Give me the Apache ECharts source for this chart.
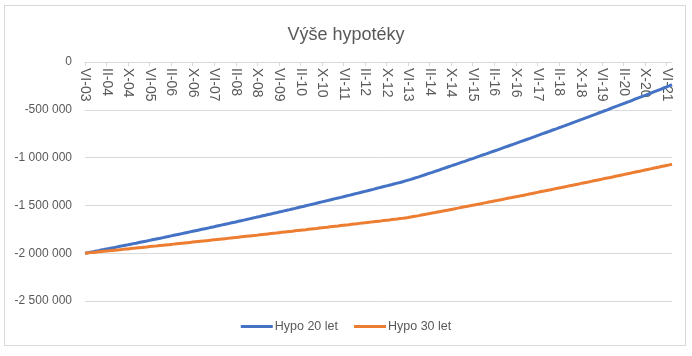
<!DOCTYPE html>
<html>
<head>
<meta charset="utf-8">
<script src="https://cdn.jsdelivr.net/npm/echarts@6/dist/echarts.min.js"></script>
<style>
html,body{margin:0;padding:0;background:#fff;}
#frame{position:absolute;left:4px;top:5px;width:682px;height:341px;border:1px solid #d9d9d9;box-sizing:border-box;}
#chart{position:absolute;left:0;top:0;width:692px;height:356px;}
</style>
</head>
<body>
<div id="frame"></div>
<div id="chart"></div>
<script>
// Month labels (Roman numerals) and period: VI-03 .. VIII-21, monthly
const romanMonths = ['I','II','III','IV','V','VI','VII','VIII','IX','X','XI','XII'];
const startMonth = 5;   // VI
const startYear = 2003;
const monthCount = 219;

// Remaining mortgage balance, in thousands CZK
const hypo20 = [
-2000,-1995,-1989,-1984,-1978,-1973,-1967,-1962,-1956,-1951,
-1945,-1940,-1934,-1928,-1923,-1917,-1912,-1906,-1900,-1895,
-1889,-1883,-1877,-1872,-1866,-1860,-1854,-1848,-1843,-1837,
-1831,-1825,-1819,-1813,-1807,-1801,-1795,-1789,-1783,-1777,
-1771,-1765,-1759,-1753,-1747,-1741,-1735,-1729,-1723,-1716,
-1710,-1704,-1698,-1692,-1685,-1679,-1673,-1666,-1660,-1654,
-1648,-1641,-1635,-1628,-1622,-1616,-1609,-1603,-1596,-1590,
-1583,-1577,-1570,-1564,-1557,-1550,-1544,-1537,-1531,-1524,
-1517,-1511,-1504,-1497,-1491,-1484,-1477,-1470,-1463,-1457,
-1450,-1443,-1436,-1429,-1422,-1416,-1409,-1402,-1395,-1388,
-1381,-1374,-1367,-1360,-1353,-1346,-1339,-1332,-1324,-1317,
-1310,-1303,-1296,-1289,-1282,-1274,-1267,-1260,-1252,-1244,
-1236,-1228,-1219,-1210,-1201,-1191,-1182,-1172,-1163,-1154,
-1144,-1135,-1125,-1116,-1106,-1096,-1087,-1077,-1068,-1058,
-1048,-1039,-1029,-1019,-1010,-1000,-990,-980,-970,-961,
-951,-941,-931,-921,-911,-901,-891,-881,-871,-861,
-851,-841,-831,-821,-811,-801,-791,-781,-770,-760,
-750,-740,-730,-719,-709,-699,-688,-678,-668,-657,
-647,-636,-626,-616,-605,-595,-584,-574,-563,-553,
-542,-531,-521,-510,-500,-489,-478,-467,-457,-446,
-435,-424,-414,-403,-392,-381,-370,-359,-349,-338,
-327,-316,-305,-294,-283,-272,-261,-250,-238
];
const hypo30 = [
-2000,-1997,-1994,-1992,-1989,-1986,-1983,-1980,-1977,-1975,
-1972,-1969,-1966,-1963,-1960,-1957,-1955,-1952,-1949,-1946,
-1943,-1940,-1937,-1934,-1931,-1928,-1926,-1923,-1920,-1917,
-1914,-1911,-1908,-1905,-1902,-1899,-1896,-1893,-1890,-1887,
-1884,-1881,-1878,-1875,-1872,-1869,-1866,-1863,-1860,-1857,
-1854,-1851,-1848,-1845,-1842,-1838,-1835,-1832,-1829,-1826,
-1823,-1820,-1817,-1814,-1811,-1807,-1804,-1801,-1798,-1795,
-1792,-1789,-1785,-1782,-1779,-1776,-1773,-1770,-1766,-1763,
-1760,-1757,-1754,-1750,-1747,-1744,-1741,-1737,-1734,-1731,
-1728,-1724,-1721,-1718,-1715,-1711,-1708,-1705,-1702,-1698,
-1695,-1692,-1688,-1685,-1682,-1678,-1675,-1672,-1668,-1665,
-1662,-1658,-1655,-1652,-1648,-1645,-1642,-1638,-1635,-1631,
-1627,-1622,-1617,-1612,-1607,-1601,-1596,-1591,-1585,-1580,
-1575,-1569,-1564,-1558,-1553,-1548,-1542,-1537,-1531,-1526,
-1520,-1515,-1509,-1504,-1498,-1493,-1487,-1482,-1476,-1471,
-1465,-1460,-1454,-1449,-1443,-1438,-1432,-1426,-1421,-1415,
-1409,-1404,-1398,-1393,-1387,-1381,-1376,-1370,-1364,-1358,
-1353,-1347,-1341,-1336,-1330,-1324,-1318,-1313,-1307,-1301,
-1295,-1290,-1284,-1278,-1272,-1266,-1260,-1255,-1249,-1243,
-1237,-1231,-1225,-1219,-1213,-1208,-1202,-1196,-1190,-1184,
-1178,-1172,-1166,-1160,-1154,-1148,-1142,-1136,-1130,-1124,
-1118,-1112,-1106,-1100,-1094,-1088,-1082,-1076,-1069
];
const seriesNames = ['Hypo 20 let', 'Hypo 30 let'];
const titleText = 'Výše hypotéky';

const categories = [];
for (let i = 0; i < monthCount; i++) {
  const m = (startMonth + i) % 12;
  const y = startYear + Math.floor((startMonth + i) / 12);
  categories.push(romanMonths[m] + '-' + String(y % 100).padStart(2, '0'));
}

function fmt(v) {
  if (v === 0) return '0';
  const s = Math.abs(v).toString().replace(/\B(?=(\d{3})+(?!\d))/g, ' ');
  return (v < 0 ? '-' : '') + s;
}

const font = '"Liberation Sans", Arial, sans-serif';
const chart = echarts.init(document.getElementById('chart'), null, {renderer: 'canvas'});
chart.setOption({
  animation: false,
  backgroundColor: 'transparent',
  title: {
    text: titleText, left: 'center', top: 21,
    textStyle: {fontFamily: font, fontSize: 18, fontWeight: 'normal', color: '#595959'}
  },
  legend: {
    bottom: 18, left: 'center',
    icon: 'rect', itemWidth: 32, itemHeight: 3, itemGap: 16,
    textStyle: {fontFamily: font, fontSize: 12.5, color: '#595959', padding: [0, 0, 0, -3]},
    data: seriesNames
  },
  grid: {left: 85, right: 20, top: 62, bottom: 55, containLabel: false},
  xAxis: {
    type: 'category', data: categories, boundaryGap: false, position: 'top',
    axisLine: {show: true, onZero: false, lineStyle: {color: '#d9d9d9', width: 1}},
    axisTick: {show: true, inside: true, interval: 7, length: 4, lineStyle: {color: '#d9d9d9'}},
    axisLabel: {inside: true, rotate: 90, interval: 7, margin: 6,
      fontFamily: font, fontSize: 14, color: '#595959'},
    splitLine: {show: false}
  },
  yAxis: {
    type: 'value', min: -2500000, max: 0, interval: 500000,
    axisLine: {show: false}, axisTick: {show: false},
    axisLabel: {formatter: fmt, margin: 13, fontFamily: font, fontSize: 12, color: '#595959'},
    splitLine: {lineStyle: {color: '#d9d9d9', width: 1}}
  },
  series: [
    {name: seriesNames[0], type: 'line', data: hypo20.map(v => v * 1000),
     showSymbol: false, symbol: 'none', lineStyle: {color: '#4472C4', width: 3}, itemStyle: {color: '#4472C4'}},
    {name: seriesNames[1], type: 'line', data: hypo30.map(v => v * 1000),
     showSymbol: false, symbol: 'none', lineStyle: {color: '#ED7D31', width: 3}, itemStyle: {color: '#ED7D31'}}
  ]
});
</script>
</body>
</html>
